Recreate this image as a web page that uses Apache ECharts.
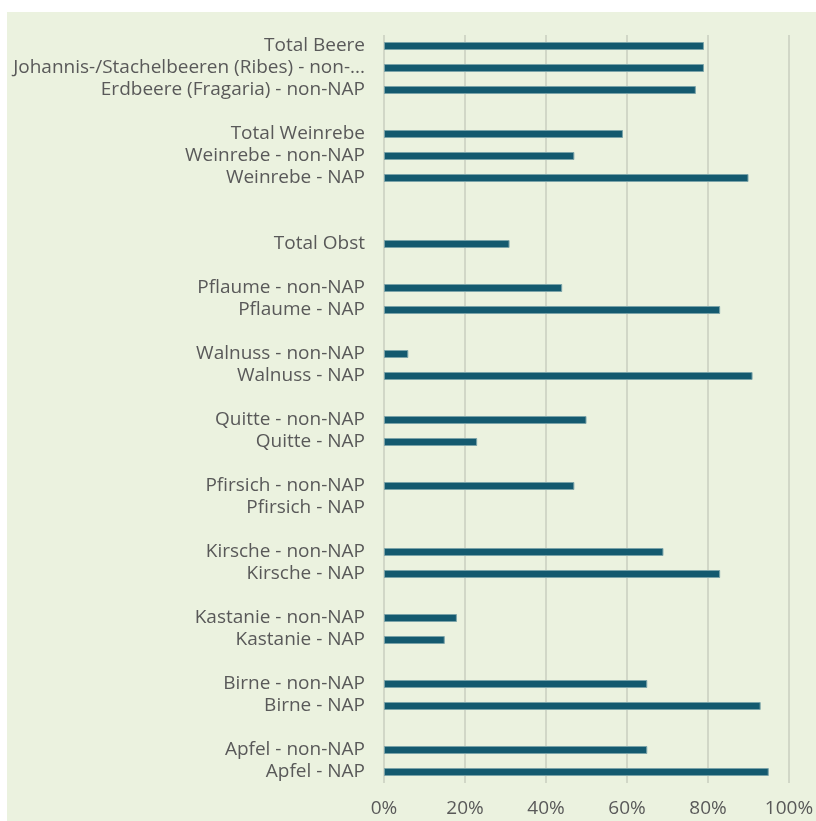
<!DOCTYPE html>
<html>
<head>
<meta charset="utf-8">
<script src="https://cdn.jsdelivr.net/npm/echarts@6/dist/echarts.min.js"></script>
<style>
  html, body { margin: 0; padding: 0; background: #ffffff; }
  #chart { width: 816px; height: 821px; }
</style>
</head>
<body>
<div id="chart"></div>
<script>
// Categories top to bottom (blank strings are spacer rows)
const categories = [
  'Total Beere',
  'Johannis-/Stachelbeeren (Ribes) - non-NAP',
  'Erdbeere (Fragaria) - non-NAP',
  ' ',
  'Total Weinrebe',
  'Weinrebe - non-NAP',
  'Weinrebe - NAP',
  '  ',
  '   ',
  'Total Obst',
  '    ',
  'Pflaume - non-NAP',
  'Pflaume - NAP',
  '     ',
  'Walnuss - non-NAP',
  'Walnuss - NAP',
  '      ',
  'Quitte - non-NAP',
  'Quitte - NAP',
  '       ',
  'Pfirsich - non-NAP',
  'Pfirsich - NAP',
  '        ',
  'Kirsche - non-NAP',
  'Kirsche - NAP',
  '         ',
  'Kastanie - non-NAP',
  'Kastanie - NAP',
  '          ',
  'Birne - non-NAP',
  'Birne - NAP',
  '           ',
  'Apfel - non-NAP',
  'Apfel - NAP'
];

// Share values (fraction), null for spacer rows / no value
const shares = [
  0.79, 0.79, 0.77, null,
  0.59, 0.47, 0.90, null, null,
  0.31, null,
  0.44, 0.83, null,
  0.06, 0.91, null,
  0.50, 0.23, null,
  0.47, null, null,
  0.69, 0.83, null,
  0.18, 0.15, null,
  0.65, 0.93, null,
  0.65, 0.95
];

const xTicks = [0, 0.2, 0.4, 0.6, 0.8, 1.0];

const chart = echarts.init(document.getElementById('chart'), null, { renderer: 'canvas' });
const font = '"Open Sans", "Liberation Sans", sans-serif';

chart.setOption({
  animation: false,
  backgroundColor: 'transparent',
  graphic: [{
    type: 'rect',
    left: 7, top: 12,
    shape: { width: 809, height: 809 },
    style: { fill: '#EBF2DF' },
    z: -10
  }],
  grid: { left: 384, right: 27, top: 35, bottom: 38, containLabel: false, outerBoundsMode: 'none' },
  xAxis: {
    type: 'value',
    min: xTicks[0],
    max: xTicks[xTicks.length - 1],
    interval: 0.2,
    axisLine: { show: false },
    axisTick: { show: false },
    splitLine: { show: true, lineStyle: { color: '#C9CEBF', width: 1.5 } },
    axisLabel: {
      margin: 16,
      color: '#595959',
      fontSize: 19,
      fontFamily: font,
      formatter: v => Math.round(v * 100) + '%'
    }
  },
  yAxis: {
    type: 'category',
    inverse: true,
    data: categories,
    axisLine: { show: false },
    axisTick: { show: false },
    splitLine: { show: false },
    axisLabel: {
      interval: 0,
      margin: 19,
      color: '#595959',
      fontSize: 19,
      fontFamily: font,
      width: 362,
      overflow: 'truncate',
      ellipsis: '...'
    }
  },
  series: [{
    type: 'bar',
    data: shares,
    barWidth: 8,
    itemStyle: { color: '#145A6F', borderColor: '#7AA3A8', borderWidth: 1 }
  }]
});
</script>
</body>
</html>
